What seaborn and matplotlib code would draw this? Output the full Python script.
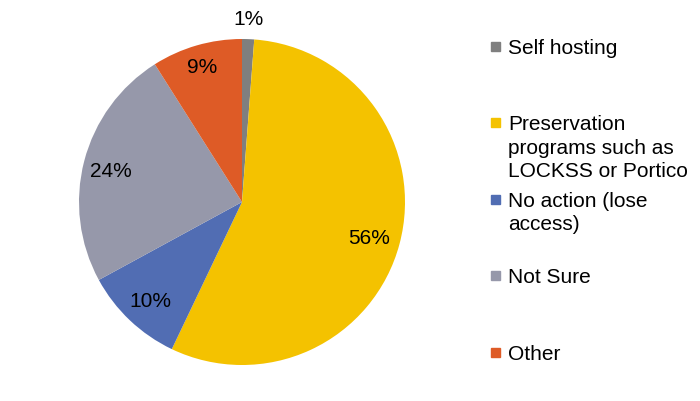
import matplotlib
matplotlib.use("Agg")
import matplotlib.pyplot as plt
import seaborn as sns
import numpy as np
from matplotlib.patches import Rectangle

sns.set_theme(style="white")
plt.rcParams['font.family'] = ['Liberation Sans', 'DejaVu Sans']

categories = ["Self hosting", "Preservation programs such as LOCKSS or Portico",
              "No action (lose access)", "Not Sure", "Other"]
legend_labels = ["Self hosting", "Preservation\nprograms such as\nLOCKSS or Portico",
                 "No action (lose\naccess)", "Not Sure", "Other"]
values = [1.2, 56, 10, 24, 9]
pct_labels = ["1%", "56%", "10%", "24%", "9%"]
colors = ["#7f7f7f", "#f4c200", "#516db3", "#9698aa", "#de5b26"]

fig = plt.figure(figsize=(7.0, 4.02), dpi=100)
ax = fig.add_axes([79/700, 36/402, 326/700, 326/402])
wedges, _ = ax.pie(values, colors=colors, startangle=90, counterclock=False,
                   radius=1.0, wedgeprops=dict(linewidth=0))
ax.set_xlim(-1, 1); ax.set_ylim(-1, 1)
ax.set_aspect('equal')

dists = [1.14, 0.81, 0.82, 0.83, 0.88]
for w, lab, d in zip(wedges, pct_labels, dists):
    th = np.deg2rad((w.theta1 + w.theta2) / 2)
    ax.text(d*np.cos(th), d*np.sin(th), lab, ha='center', va='center_baseline',
            fontsize=15, color='black', clip_on=False)

W, H = 700, 402
for i, (lab, c) in enumerate(zip(legend_labels, colors)):
    yc = 47 + 76.5*i
    fig.patches.append(Rectangle((491/W, 1-(yc+4.5)/H), 9/W, 9/H, color=c,
                                 transform=fig.transFigure, figure=fig))
    fig.text(508/W, 1-(yc-8)/H, lab, ha='left', va='top', fontsize=15,
             color='black', linespacing=1.28)

fig.savefig("out.png", dpi=100)
